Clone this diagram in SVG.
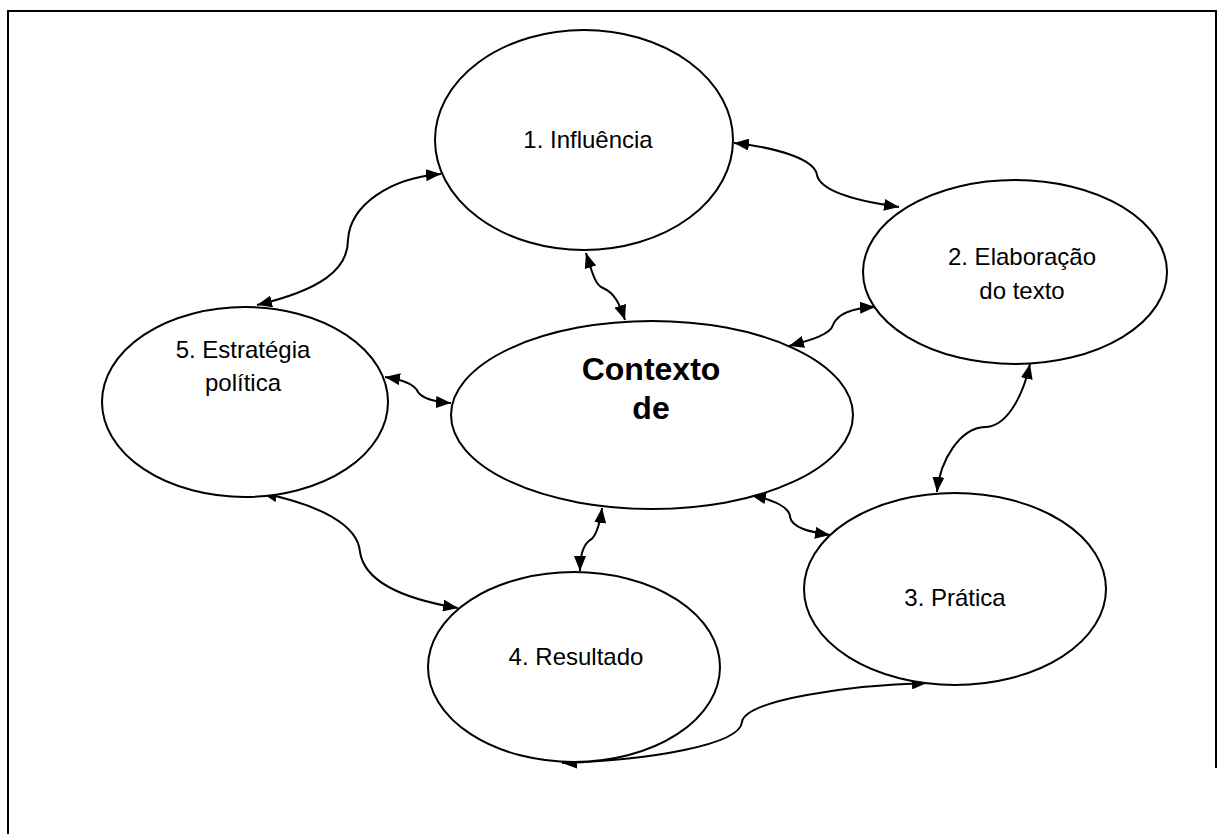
<svg xmlns="http://www.w3.org/2000/svg" width="1224" height="834" viewBox="0 0 1224 834">
<defs>
<marker id="ah" viewBox="0 0 15 12" refX="15" refY="6" markerWidth="15" markerHeight="12" markerUnits="userSpaceOnUse" orient="auto-start-reverse">
<path d="M0,0 L15,6 L0,12 Z" fill="#000"/>
</marker>
</defs>
<style>
.n{fill:#fff;stroke:#000;stroke-width:2}
.t{font-family:"Liberation Sans",Arial,sans-serif;font-size:24px;fill:#000;text-anchor:middle}
.b{font-family:"Liberation Sans",Arial,sans-serif;font-size:32px;font-weight:bold;fill:#000;text-anchor:middle}
.c{fill:none;stroke:#000;stroke-width:2;marker-start:url(#ah);marker-end:url(#ah)}
</style>
<rect x="0" y="0" width="1224" height="834" fill="#fff"/>
<path d="M8,840 L8,11 L1216,11 L1216,768" fill="none" stroke="#000" stroke-width="2"/>
<g id="connectors">
<path class="c" d="M257,305 C320,290 348,270 348,240 C350,205 390,178 441,174"/>
<path class="c" d="M734,143 C780,148 815,160 817,175 C820,190 850,200 899,207"/>
<path class="c" d="M586,253 C592,272 595,285 603,288 C615,293 620,305 625,320"/>
<path class="c" d="M789,346 C810,340 830,335 833,325 C838,312 855,308 875,307"/>
<path class="c" d="M385,377 C405,380 415,385 418,392 C422,398 435,402 451,403"/>
<path class="c" d="M1030,364 C1022,400 1005,427 985,427 C960,428 940,460 937,492"/>
<path class="c" d="M751,495 C775,500 790,508 790,517 C792,528 810,532 830,535"/>
<path class="c" d="M602,508 C600,525 595,538 590,540 C583,545 580,555 580,571"/>
<path class="c" d="M262,493 C320,505 358,525 360,552 C365,585 410,600 458,608"/>
<path class="c" d="M562,763 C650,760 740,745 742,722 C745,700 850,685 927,683"/>
</g>
<g id="n1"><ellipse class="n" cx="584" cy="140" rx="149" ry="110"/><text class="t" x="588" y="148">1. Influência</text></g>
<g id="n2"><ellipse class="n" cx="1015" cy="272" rx="152" ry="92"/><text class="t" x="1022" y="265">2. Elaboração</text><text class="t" x="1022" y="299">do texto</text></g>
<g id="n3"><ellipse class="n" cx="955" cy="589" rx="151" ry="96"/><text class="t" x="955" y="606">3. Prática</text></g>
<g id="n4"><ellipse class="n" cx="574" cy="667" rx="146" ry="95"/><text class="t" x="576" y="665">4. Resultado</text></g>
<g id="n5"><ellipse class="n" cx="245" cy="402" rx="143" ry="95"/><text class="t" x="243" y="358">5. Estratégia</text><text class="t" x="243" y="391">política</text></g>
<g id="n0"><ellipse class="n" cx="652" cy="415" rx="201" ry="94"/><text class="b" x="651" y="380">Contexto</text><text class="b" x="651" y="419">de</text></g>
</svg>
